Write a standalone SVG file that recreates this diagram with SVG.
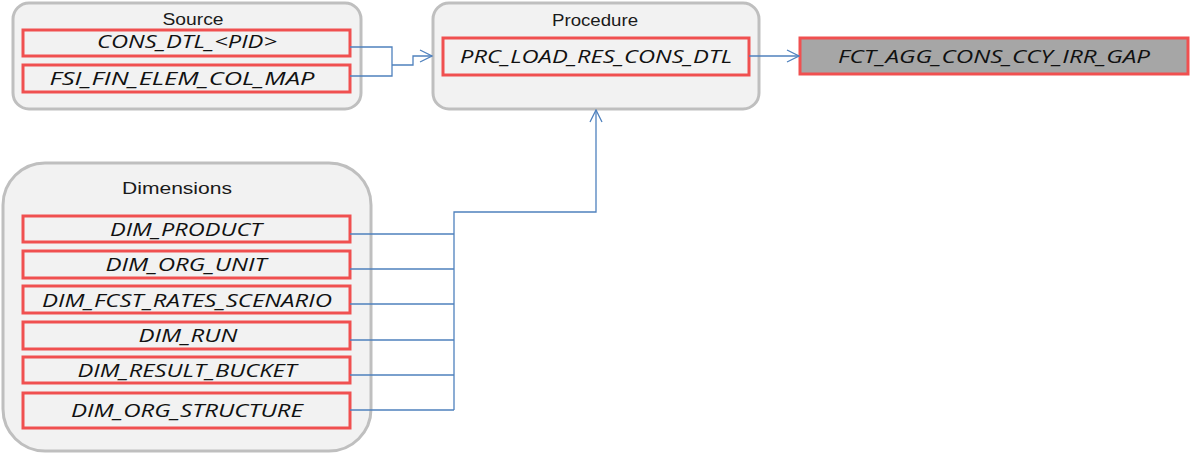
<svg xmlns="http://www.w3.org/2000/svg" width="1190" height="454" viewBox="0 0 1190 454">
<style>
.cont{fill:#f2f2f2;stroke:#bfbfbf;stroke-width:3}
.tbl{fill:#f2f2f2;stroke:#f05050;stroke-width:3}
.fact{fill:#a6a6a6;stroke:#f05050;stroke-width:3}
.hdr{font-family:"Liberation Sans",Arial,sans-serif;font-size:16px;fill:#1a1a1a;text-anchor:middle}
.lbl{font-family:"Open Sans","Liberation Sans",Arial,sans-serif;font-size:18px;font-style:italic;fill:#111;text-anchor:middle}
.con{fill:none;stroke:#4f81bd;stroke-width:1.3}
</style>
<defs>
<marker id="arr" markerWidth="14" markerHeight="14" refX="13" refY="7" orient="auto" markerUnits="userSpaceOnUse">
<path d="M1,1 L13,7 L1,13" fill="none" stroke="#4f81bd" stroke-width="1.3"/>
</marker>
</defs>
<g id="source">
<rect class="cont" x="13" y="3" width="348" height="106" rx="16"/>
<text class="hdr" x="193" y="25" textLength="61" lengthAdjust="spacingAndGlyphs">Source</text>
</g>
<g id="cons_dtl">
<rect class="tbl" x="23" y="30" width="327" height="26"/>
<text class="lbl" x="187" y="48" textLength="180" lengthAdjust="spacingAndGlyphs">CONS_DTL_&lt;PID&gt;</text>
</g>
<g id="fsi_fin">
<rect class="tbl" x="23" y="65" width="327" height="27"/>
<text class="lbl" x="182" y="85" textLength="265" lengthAdjust="spacingAndGlyphs">FSI_FIN_ELEM_COL_MAP</text>
</g>
<g id="procedure">
<rect class="cont" x="433" y="3" width="326" height="106" rx="16"/>
<text class="hdr" x="595" y="26" textLength="86" lengthAdjust="spacingAndGlyphs">Procedure</text>
</g>
<g id="prc">
<rect class="tbl" x="443" y="38" width="306" height="37"/>
<text class="lbl" x="596" y="63" textLength="272" lengthAdjust="spacingAndGlyphs">PRC_LOAD_RES_CONS_DTL</text>
</g>
<g id="fct">
<rect class="fact" x="800" y="38" width="388" height="36"/>
<text class="lbl" x="994" y="63" textLength="312" lengthAdjust="spacingAndGlyphs">FCT_AGG_CONS_CCY_IRR_GAP</text>
</g>
<g id="dimensions">
<rect class="cont" x="3" y="163" width="368" height="288" rx="42"/>
<text class="hdr" x="177" y="194" textLength="110" lengthAdjust="spacingAndGlyphs">Dimensions</text>
</g>
<g id="dim_product">
<rect class="tbl" x="23" y="216" width="327" height="26"/>
<text class="lbl" x="186" y="236" textLength="152" lengthAdjust="spacingAndGlyphs">DIM_PRODUCT</text>
</g>
<g id="dim_org_unit">
<rect class="tbl" x="23" y="251" width="327" height="27"/>
<text class="lbl" x="186" y="271" textLength="161" lengthAdjust="spacingAndGlyphs">DIM_ORG_UNIT</text>
</g>
<g id="dim_fcst">
<rect class="tbl" x="23" y="286" width="327" height="27"/>
<text class="lbl" x="187" y="307" textLength="290" lengthAdjust="spacingAndGlyphs">DIM_FCST_RATES_SCENARIO</text>
</g>
<g id="dim_run">
<rect class="tbl" x="23" y="322" width="327" height="27"/>
<text class="lbl" x="188" y="342" textLength="99" lengthAdjust="spacingAndGlyphs">DIM_RUN</text>
</g>
<g id="dim_result">
<rect class="tbl" x="23" y="357" width="327" height="26"/>
<text class="lbl" x="187" y="377" textLength="219" lengthAdjust="spacingAndGlyphs">DIM_RESULT_BUCKET</text>
</g>
<g id="dim_org_structure">
<rect class="tbl" x="23" y="393" width="327" height="35"/>
<text class="lbl" x="187" y="417" textLength="232" lengthAdjust="spacingAndGlyphs">DIM_ORG_STRUCTURE</text>
</g>
<g id="connectors">
<path class="con" d="M350,47 H392 V76 H350"/>
<path class="con" d="M392,65 H413 V56 H432" marker-end="url(#arr)"/>
<path class="con" d="M749,56 H799" marker-end="url(#arr)"/>
<path class="con" d="M350,234 H454 M350,269 H454 M350,304 H454 M350,340 H454 M350,375 H454 M350,410 H454"/>
<path class="con" d="M454,410 V212 H596 V110" marker-end="url(#arr)"/>
</g>
</svg>
